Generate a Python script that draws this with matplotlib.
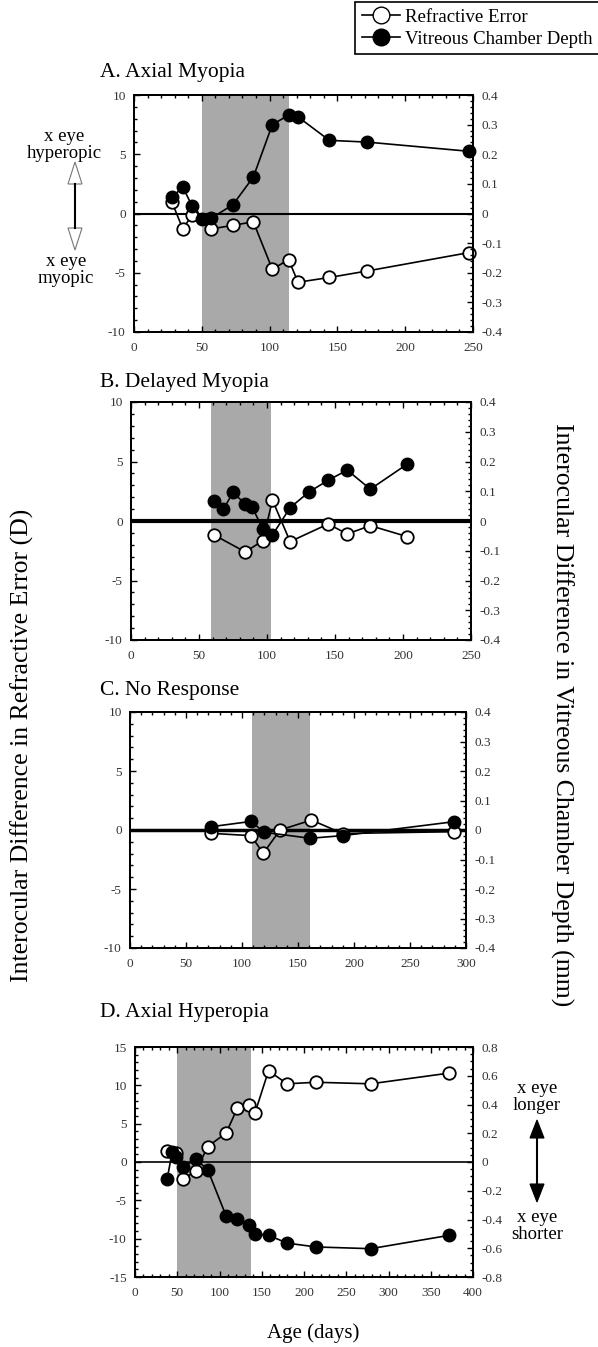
import numpy as np
import matplotlib
matplotlib.use('Agg')
import matplotlib.pyplot as plt
from matplotlib.lines import Line2D
from matplotlib.patches import Polygon
from matplotlib.ticker import MultipleLocator, FuncFormatter

plt.rcParams['font.family'] = ['Liberation Serif', 'DejaVu Serif']

W, H = 598, 1347

# A. Axial Myopia
a_re_age = [28, 36, 43, 57, 73, 88, 102, 114, 121, 144, 172, 247]
a_re = [0.95, -1.3, -0.1, -1.3, -1.0, -0.7, -4.7, -3.9, -5.8, -5.4, -4.85, -3.3]
a_vc_age = [28, 36, 43, 50, 57, 73, 88, 102, 114, 121, 144, 172, 247]
a_vc = [0.055, 0.089, 0.024, -0.019, -0.016, 0.03, 0.123, 0.30, 0.332, 0.326, 0.247, 0.241, 0.21]
a_shade = (50, 114)

# B. Delayed Myopia
b_re_age = [61, 84, 97, 104, 117, 145, 159, 176, 203]
b_re = [-1.17, -2.6, -1.65, 1.76, -1.73, -0.25, -1.09, -0.39, -1.31]
b_vc_age = [61, 68, 75, 84, 89, 97, 104, 117, 131, 145, 159, 176, 203]
b_vc = [0.067, 0.04, 0.096, 0.057, 0.048, -0.028, -0.047, 0.045, 0.098, 0.137, 0.171, 0.107, 0.191]
b_shade = (59, 103)

# C. No Response
c_re_age = [72, 108, 119, 134, 162, 190, 289]
c_re = [-0.28, -0.48, -1.97, 0.0, 0.84, -0.3, -0.14]
c_vc_age = [72, 108, 120, 161, 190, 289]
c_vc = [0.011, 0.029, -0.008, -0.028, -0.019, 0.028]
c_shade = (109, 161)

# D. Axial Hyperopia
d_re_age = [38, 49, 57, 72, 86, 108, 121, 135, 142, 158, 180, 214, 279, 372]
d_re = [1.5, 1.2, -2.2, -1.2, 2.0, 3.8, 7.0, 7.4, 6.4, 11.9, 10.2, 10.4, 10.2, 11.6]
d_vc_age = [38, 44, 49, 57, 72, 86, 108, 121, 135, 142, 158, 180, 214, 279, 372]
d_vc = [-0.12, 0.07, 0.035, -0.035, 0.019, -0.053, -0.378, -0.394, -0.436, -0.499, -0.51, -0.564, -0.591, -0.603, -0.51]
d_shade = (50, 137)

fig = plt.figure(figsize=(W / 100, H / 100), dpi=100)


def fx(px):
    return px / W


def fy(py):
    return 1 - py / H


def fmt(v, p):
    if abs(v) < 1e-9:
        return '0'
    return '%g' % round(v, 3)


def panel(left, top, right, bottom, title, title_y, xmax, shade,
          re_x, re_y, vc_x, vc_y, ylim, ymaj, rlim, rmaj, rmin, zero_lw):
    ax = fig.add_axes([fx(left), fy(bottom), fx(right) - fx(left), fy(top) - fy(bottom)])
    ax.axvspan(shade[0], shade[1], color='#a9a9a9', lw=0, zorder=0)
    ax.axhline(0, color='black', lw=zero_lw, zorder=1)
    ax.plot(re_x, re_y, '-o', color='black', lw=1.2, ms=9, mfc='white',
            mec='black', mew=1.3, zorder=3, clip_on=False)
    ax.set_xlim(0, xmax)
    ax.set_ylim(-ylim, ylim)
    ax.xaxis.set_major_locator(MultipleLocator(50))
    ax.xaxis.set_minor_locator(MultipleLocator(10))
    ax.yaxis.set_major_locator(MultipleLocator(ymaj))
    ax.yaxis.set_minor_locator(MultipleLocator(1))
    ax.xaxis.set_major_formatter(FuncFormatter(fmt))
    ax.yaxis.set_major_formatter(FuncFormatter(fmt))
    ax.tick_params(which='both', direction='in', top=True, right=False,
                   labelsize=9.5, labelcolor='#333333', width=1)
    ax.tick_params(which='major', length=4)
    ax.tick_params(which='minor', length=2)
    ax.tick_params(axis='x', pad=7)
    ax.tick_params(axis='y', pad=6)
    for s in ax.spines.values():
        s.set_linewidth(1.4)

    ax2 = ax.twinx()
    ax2.plot(vc_x, vc_y, '-o', color='black', lw=1.2, ms=9, mfc='black',
             mec='black', zorder=4, clip_on=False)
    ax2.set_ylim(-rlim, rlim)
    ax2.yaxis.set_major_locator(MultipleLocator(rmaj))
    ax2.yaxis.set_minor_locator(MultipleLocator(rmin))
    ax2.yaxis.set_major_formatter(FuncFormatter(fmt))
    ax2.tick_params(which='both', direction='in', labelsize=9.5,
                    labelcolor='#333333', width=1, pad=6)
    ax2.tick_params(which='major', length=4)
    ax2.tick_params(which='minor', length=2)
    for s in ax2.spines.values():
        s.set_linewidth(1.4)

    fig.text(fx(100), fy(title_y), title, fontsize=15.5, ha='left', va='center')
    return ax, ax2


panel(134, 95, 473, 332, 'A. Axial Myopia', 72, 250, a_shade,
      a_re_age, a_re, a_vc_age, a_vc, 10, 5, 0.4, 0.1, 0.02, 1.5)
panel(131, 402, 471, 640, 'B. Delayed Myopia', 382, 250, b_shade,
      b_re_age, b_re, b_vc_age, b_vc, 10, 5, 0.4, 0.1, 0.02, 3.0)
panel(130, 712, 466, 948, 'C. No Response', 690, 300, c_shade,
      c_re_age, c_re, c_vc_age, c_vc, 10, 5, 0.4, 0.1, 0.02, 2.5)
panel(135, 1047, 473, 1277, 'D. Axial Hyperopia', 1013, 400, d_shade,
      d_re_age, d_re, d_vc_age, d_vc, 15, 5, 0.8, 0.2, 0.05, 1.2)

# axis titles
fig.text(fx(313), fy(1333), 'Age (days)', fontsize=15, ha='center', va='center')
fig.text(fx(22), fy(745), 'Interocular Difference in Refractive Error (D)',
         fontsize=18.5, rotation=90, ha='center', va='center')
fig.text(fx(562), fy(715), 'Interocular Difference in Vitreous Chamber Depth (mm)',
         fontsize=18.5, rotation=270, ha='center', va='center')

# legend
handles = [Line2D([], [], color='black', lw=1.2, marker='o', ms=12, mfc='white', mec='black'),
           Line2D([], [], color='black', lw=1.2, marker='o', ms=12, mfc='black', mec='black')]
leg = fig.legend(handles, ['Refractive Error', 'Vitreous Chamber Depth'],
                 loc='upper right', bbox_to_anchor=(1.002, fy(2)), fontsize=13.5,
                 frameon=True, fancybox=False, edgecolor='black', framealpha=1,
                 borderaxespad=0, handlelength=2.0, handletextpad=0.3,
                 borderpad=0.35, labelspacing=0.25)
leg.get_frame().set_linewidth(1.2)


def arrow(x, y0, y1, hl, hw, fill, edge):
    fig.add_artist(Line2D([fx(x), fx(x)], [fy(y0 + hl), fy(y1 - hl)],
                          color='black', lw=1.5, transform=fig.transFigure))
    up = [(fx(x), fy(y0)), (fx(x - hw), fy(y0 + hl)), (fx(x + hw), fy(y0 + hl))]
    dn = [(fx(x), fy(y1)), (fx(x - hw), fy(y1 - hl)), (fx(x + hw), fy(y1 - hl))]
    for pts in (up, dn):
        fig.add_artist(Polygon(pts, closed=True, facecolor=fill, edgecolor=edge,
                               lw=0.8, transform=fig.transFigure))


fig.text(fx(64), fy(145), 'x eye\nhyperopic', fontsize=13.5, ha='center', va='center',
         linespacing=1.0)
arrow(75, 162, 250, 22, 7, 'white', '#777777')
fig.text(fx(66), fy(270), 'x eye\nmyopic', fontsize=13.5, ha='center', va='center',
         linespacing=1.0)

fig.text(fx(537), fy(1097), 'x eye\nlonger', fontsize=13.5, ha='center', va='center',
         linespacing=1.0)
arrow(537, 1120, 1202, 18, 7, 'black', 'black')
fig.text(fx(537), fy(1226), 'x eye\nshorter', fontsize=13.5, ha='center', va='center',
         linespacing=1.0)

fig.savefig('out.png', dpi=100)
